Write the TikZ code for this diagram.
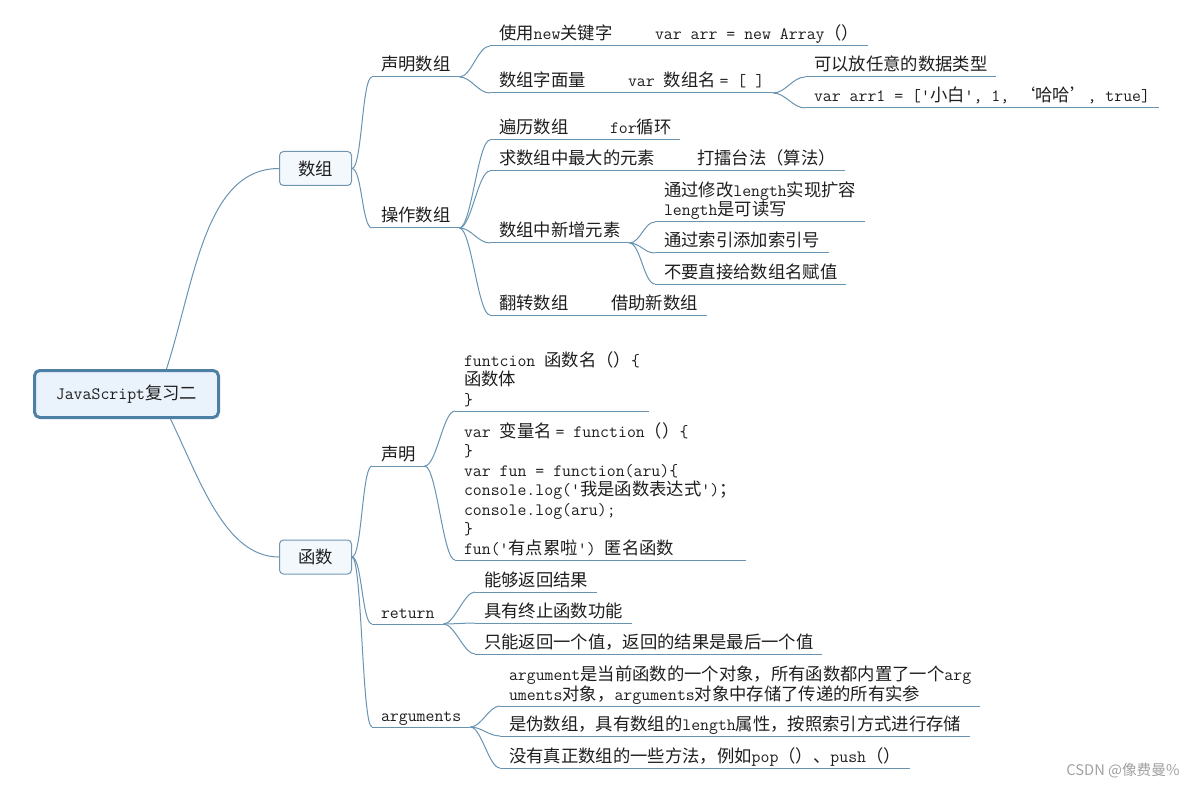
\documentclass[tikz,border=0pt]{standalone}
\usepackage{fontspec}
\newfontfamily\hanfont{Noto Sans CJK SC}
\newcommand\latinpart{\ttfamily\fontsize{13}{14.6}\selectfont}
\newcommand\hanpart{\hanfont\fontsize{13}{14.6}\selectfont}
% switch font between Han text and Latin text
\XeTeXinterchartokenstate=1
\newXeTeXintercharclass\hanclass
\makeatletter
\count@="2E80
\loop \XeTeXcharclass\count@=\hanclass \advance\count@ by 1 \ifnum\count@<"A000 \repeat
\count@="FF00
\loop \XeTeXcharclass\count@=\hanclass \advance\count@ by 1 \ifnum\count@<"FFF0 \repeat
\makeatother
\XeTeXcharclass"2018=\hanclass
\XeTeXcharclass"2019=\hanclass
\XeTeXinterchartoks 0 \hanclass = {\hanpart}
\XeTeXinterchartoks 4095 \hanclass = {\hanpart}
\XeTeXinterchartoks \hanclass 0 = {\latinpart}
\XeTeXinterchartoks 4095 0 = {\latinpart}

\tikzset{every picture/.style={line width=0.75pt}}
\tikzset{
  branch/.style={draw={rgb, 255:red, 104; green, 148; blue, 178}},
  leaf/.style={anchor=south west, inner xsep=6.75pt, inner ysep=0pt, outer sep=0pt, text depth=4.5pt, align=left,
    text={rgb, 255:red, 30; green, 30; blue, 30}, font=\latinpart},
  maintopic/.style={draw={rgb, 255:red, 112; green, 150; blue, 178}, fill={rgb, 255:red, 243; green, 248; blue, 253},
    rounded corners=3pt, minimum width=54pt, minimum height=25.5pt, inner sep=0pt,
    text={rgb, 255:red, 30; green, 30; blue, 30}, font=\latinpart},
  central/.style={draw={rgb, 255:red, 78; green, 128; blue, 166}, line width=2.25pt, fill={rgb, 255:red, 234; green, 242; blue, 251},
    rounded corners=4pt, minimum width=138pt, minimum height=35.25pt, inner sep=0pt,
    text={rgb, 255:red, 30; green, 30; blue, 30}, font=\latinpart},
}

\begin{document}
\begin{tikzpicture}[x=0.75pt,y=0.75pt,yscale=-1,xscale=1]
\useasboundingbox (0,0) rectangle (1193,788);

% Central and main topics
\node[central] (root) at (126.5,394) {JavaScript复习二};
\node[maintopic] (arrays) at (315.5,168.5) {数组};
\node[maintopic] (funcs) at (315.5,557) {函数};

\draw[branch] ([xshift=30pt]root.north) .. controls (195,280) and (205,168.5) .. (arrays.west);
\draw[branch] ([xshift=33pt]root.south) .. controls (200,480) and (225,557) .. (funcs.west);

% Arrays
\node[leaf] (arrdecl) at (372,77) {声明数组};
\node[leaf] (arrop) at (372,228) {操作数组};
\draw[branch] (arrdecl.south west) -- (arrdecl.south east);
\draw[branch] (arrop.south west) -- (arrop.south east);
\draw[branch] (arrays.east) .. controls +(10,0) and +(-10,0) .. (arrdecl.south west);
\draw[branch] (arrays.east) .. controls +(10,0) and +(-10,0) .. (arrop.south west);

% declare an array
\node[leaf] (newkw) at (490,46) {使用new关键字};
\node[leaf] (newarr) at (646,46) {var arr = new Array（）};
\node[leaf] (literal) at (490,93) {数组字面量};
\node[leaf] (litsyn) at (619,93) {var 数组名 = [ ]};
\node[leaf] (anytype) at (805,77) {可以放任意的数据类型};
\node[leaf] (arrone) at (805,108) {var arr1 = ['小白', 1, ‘哈哈’, true]};
\draw[branch] (newkw.south west) -- (newarr.south east);
\draw[branch] (literal.south west) -- (litsyn.south east);
\draw[branch] (anytype.south west) -- (anytype.south east);
\draw[branch] (arrone.south west) -- (arrone.south east);
\draw[branch] (arrdecl.south east) .. controls +(12,0) and +(-12,0) .. (newkw.south west);
\draw[branch] (arrdecl.south east) .. controls +(12,0) and +(-12,0) .. (literal.south west);
\draw[branch] (litsyn.south east) .. controls +(12,0) and +(-12,0) .. (anytype.south west);
\draw[branch] (litsyn.south east) .. controls +(12,0) and +(-12,0) .. (arrone.south west);

% operate on an array
\node[leaf] (traverse) at (490,140) {遍历数组};
\node[leaf] (forloop) at (601,140) {for循环};
\node[leaf] (maxel) at (490,171) {求数组中最大的元素};
\node[leaf] (leitai) at (688,171) {打擂台法（算法）};
\node[leaf] (addel) at (490,243) {数组中新增元素};
\node[leaf] (reverse) at (490,315) {翻转数组};
\node[leaf] (newarrtwo) at (602,315) {借助新数组};
\draw[branch] (traverse.south west) -- (forloop.south east);
\draw[branch] (maxel.south west) -- (leitai.south east);
\draw[branch] (addel.south west) -- (addel.south east);
\draw[branch] (reverse.south west) -- (newarrtwo.south east);
\draw[branch] (arrop.south east) .. controls +(12,0) and +(-12,0) .. (traverse.south west);
\draw[branch] (arrop.south east) .. controls +(12,0) and +(-12,0) .. (maxel.south west);
\draw[branch] (arrop.south east) .. controls +(12,0) and +(-12,0) .. (addel.south west);
\draw[branch] (arrop.south east) .. controls +(12,0) and +(-12,0) .. (reverse.south west);

% add elements
\node[leaf] (lenext) at (655,222) {通过修改length实现扩容\\length是可读写};
\node[leaf] (idxadd) at (655,253) {通过索引添加索引号};
\node[leaf] (noassign) at (655,284) {不要直接给数组名赋值};
\draw[branch] (lenext.south west) -- (lenext.south east);
\draw[branch] (idxadd.south west) -- (idxadd.south east);
\draw[branch] (noassign.south west) -- (noassign.south east);
\draw[branch] (addel.south east) .. controls +(11,0) and +(-11,0) .. (lenext.south west);
\draw[branch] (addel.south east) .. controls +(11,0) and +(-11,0) .. (idxadd.south west);
\draw[branch] (addel.south east) .. controls +(11,0) and +(-11,0) .. (noassign.south west);

% Functions
\node[leaf] (fdecl) at (372,466) {声明};
\node[leaf] (fret) at (372,624) {return};
\node[leaf] (fargs) at (372,727) {arguments};
\draw[branch] (fdecl.south west) -- (fdecl.south east);
\draw[branch] (fret.south west) -- (fret.south east);
\draw[branch] (fargs.south west) -- (fargs.south east);
\draw[branch] (funcs.east) .. controls +(10,0) and +(-10,0) .. (fdecl.south west);
\draw[branch] (funcs.east) .. controls +(10,0) and +(-10,0) .. (fret.south west);
\draw[branch] (funcs.east) .. controls +(10,0) and +(-10,0) .. (fargs.south west);

% declare a function
\node[leaf] (fnamed) at (455,411) {funtcion 函数名（）\{\\函数体\\\}};
\node[leaf] (fexpr) at (455,560) {var 变量名 = function（）\{\\\}\\var fun = function(aru)\{\\console.log('我是函数表达式')；\\console.log(aru);\\\}\\fun('有点累啦') 匿名函数};
\draw[branch] (fnamed.south west) -- (fnamed.south east);
\draw[branch] (fexpr.south west) -- (fexpr.south east);
\draw[branch] (fdecl.south east) .. controls +(12,0) and +(-12,0) .. (fnamed.south west);
\draw[branch] (fdecl.south east) .. controls +(12,0) and +(-12,0) .. (fexpr.south west);

% return
\node[leaf] (retres) at (475,592) {能够返回结果};
\node[leaf] (retstop) at (475,623) {具有终止函数功能};
\node[leaf] (retone) at (475,654) {只能返回一个值，返回的结果是最后一个值};
\draw[branch] (retres.south west) -- (retres.south east);
\draw[branch] (retstop.south west) -- (retstop.south east);
\draw[branch] (retone.south west) -- (retone.south east);
\draw[branch] (fret.south east) .. controls +(11,0) and +(-11,0) .. (retres.south west);
\draw[branch] (fret.south east) .. controls +(11,0) and +(-11,0) .. (retstop.south west);
\draw[branch] (fret.south east) .. controls +(11,0) and +(-11,0) .. (retone.south west);

% arguments
\node[leaf] (argobj) at (500,706) {argument是当前函数的一个对象，所有函数都内置了一个arg\\uments对象，arguments对象中存储了传递的所有实参};
\node[leaf] (argpseudo) at (500,736) {是伪数组，具有数组的length属性，按照索引方式进行存储};
\node[leaf] (argnometh) at (500,768) {没有真正数组的一些方法，例如pop（）、push（）};
\draw[branch] (argobj.south west) -- (argobj.south east);
\draw[branch] (argpseudo.south west) -- (argpseudo.south east);
\draw[branch] (argnometh.south west) -- (argnometh.south east);
\draw[branch] (fargs.south east) .. controls +(11,0) and +(-11,0) .. (argobj.south west);
\draw[branch] (fargs.south east) .. controls +(11,0) and +(-11,0) .. (argpseudo.south west);
\draw[branch] (fargs.south east) .. controls +(11,0) and +(-11,0) .. (argnometh.south west);

% watermark
\node[anchor=east, inner sep=0pt, text={rgb, 255:red, 160; green, 160; blue, 160}, font={\def\latinpart{}\def\hanpart{}\hanfont\fontsize{11}{13}\selectfont}] (mark) at (1180,771) {CSDN @像费曼\%};

\end{tikzpicture}
\end{document}
